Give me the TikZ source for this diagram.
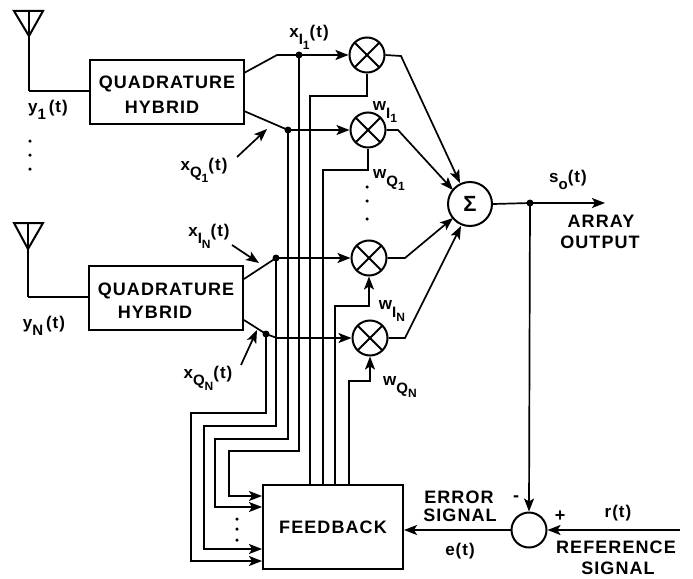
\documentclass[tikz,border=0pt]{standalone}
\usepackage{fontspec}
\usepackage{tikz}
\usetikzlibrary{arrows.meta,calc}
\newfontfamily\capsfont[LetterSpace=6]{Liberation Sans Bold}
\newfontfamily\sigfont[LetterSpace=6]{Liberation Sans Bold}
\newcommand{\siglabel}[3]{#1\raisebox{-0.45em}{\fontsize{15}{15}\selectfont #2\raisebox{-0.3em}{\fontsize{12}{12}\selectfont #3}}}
\tikzset{
    wire/.style={line width=1.7pt},
    sigarrow/.style={wire, -{Stealth[length=13pt,width=10pt,inset=3pt]}},
    blockbox/.style={draw, line width=2pt, inner sep=0pt},
    capstext/.style={inner sep=0pt, font=\capsfont\fontsize{18}{18}\selectfont, align=center},
    sigtext/.style={inner sep=0pt, font=\sigfont\fontsize{17}{17}\selectfont},
    mixer/.style={circle, draw, line width=2pt, minimum size=35pt, inner sep=0pt,
        path picture={
            \draw[line width=2pt] (path picture bounding box.north west) -- (path picture bounding box.south east);
            \draw[line width=2pt] (path picture bounding box.north east) -- (path picture bounding box.south west);
        }},
    sumcirc/.style={circle, draw, line width=2pt, inner sep=0pt},
    netdot/.style={circle, fill, inner sep=0pt, minimum size=7pt},
    smalldot/.style={circle, fill, inner sep=0pt, minimum size=3.5pt},
}
\begin{document}
\begin{tikzpicture}[x=1pt,y=-1pt]
    \useasboundingbox (0,0) rectangle (693,578);

    % Antennas
    \coordinate (ant1) at (29,11);
    \coordinate (ant1apex) at (29,36);
    \coordinate (ant1bend) at (29,91);
    \draw[wire, line width=2pt] (14,11) -- (43,11) -- (ant1apex) -- cycle;
    \draw[wire] (ant1) -- (ant1bend);
    \coordinate (ant2) at (28,223);
    \coordinate (ant2apex) at (28,249);
    \coordinate (ant2bend) at (28,297);
    \draw[wire, line width=2pt] (14,223) -- (43,223) -- (ant2apex) -- cycle;
    \draw[wire] (ant2) -- (ant2bend);

    % Hybrids
    \node[blockbox, minimum width=154pt, minimum height=63pt] (hyb1) at (167,92) {};
    \node[capstext] (hyb1top) at (167,84) {QUADRATURE};
    \node[capstext] (hyb1bot) at (162,107) {HYBRID};
    \node[blockbox, minimum width=154pt, minimum height=64pt] (hyb2) at (166,298) {};
    \node[capstext] (hyb2top) at (166,291) {QUADRATURE};
    \node[capstext] (hyb2bot) at (155,312) {HYBRID};
    \draw[wire] (ant1bend) -- (hyb1.west |- ant1bend);
    \draw[wire] (ant2bend) -- (hyb2.west |- ant2bend);

    % Mixers and summer
    \node[mixer] (mix1) at (367,55) {};
    \node[mixer] (mix2) at (368,130) {};
    \node[mixer] (mix3) at (369,258) {};
    \node[mixer] (mix4) at (370,338) {};
    \node[sumcirc, minimum size=44pt] (sum) at (470,204) {\capsfont\fontsize{22}{22}\selectfont Σ};
    \node[sumcirc, minimum size=35pt] (err) at (529,530) {};

    % Feedback block
    \node[blockbox, minimum width=140pt, minimum height=84pt] (fb) at (333,527) {};
    \node[capstext] (fbtext) at (333,527) {FEEDBACK};

    % Hybrid outputs
    \coordinate (i1) at (299,55);
    \coordinate (q1) at (288,130);
    \coordinate (iN) at (276,258);
    \coordinate (qN) at (266,334);
    \node[netdot] (i1dot) at (i1) {};
    \node[netdot] (q1dot) at (q1) {};
    \node[netdot] (iNdot) at (iN) {};
    \node[netdot] (qNdot) at (qN) {};
    \draw[wire] (244,73) -- (277,55) -- (i1);
    \draw[sigarrow] (i1) -- (mix1.west);
    \draw[wire] (244,111) -- (q1);
    \draw[sigarrow] (q1) -- (mix2.west);
    \draw[wire] (244,279) -- (iN);
    \draw[sigarrow] (iN) -- (mix3.west);
    \draw[sigarrow] (244,320) -- (qN) -- (277,338) -- (mix4.west);

    % Signals down to feedback
    \draw[sigarrow] (qN) -- (266,413) -- (191,413) -- (191,561) -- (fb.west |- 0,561);
    \draw[sigarrow] (iN) -- (276,426) -- (204,426) -- (204,549) -- (fb.west |- 0,549);
    \draw[sigarrow] (q1) -- (288,439) -- (215,439) -- (215,507) -- (fb.west |- 0,507);
    \draw[sigarrow] (i1) -- (299,451) -- (229,451) -- (229,496) -- (fb.west |- 0,496);

    % Weights up from feedback
    \draw[wire] (fb.north -| 310,0) -- (310,96) -- (367,96) -- (mix1.south);
    \draw[wire] (fb.north -| 323,0) -- (323,170) -- (368,170) -- (mix2.south);
    \draw[sigarrow] (fb.north -| 335,0) -- (335,306) -- (369,306) -- (mix3.south);
    \draw[sigarrow] (fb.north -| 349,0) -- (349,381) -- (370,381) -- (mix4.south);

    % Mixer outputs to summer
    \draw[sigarrow] (mix1.east) -- (401,56) -- (460,183);
    \draw[sigarrow] (mix2.east) -- (398,130) -- (453,190);
    \draw[sigarrow] (mix3.east) -- (405,258) -- (453,218);
    \draw[sigarrow] (mix4.east) -- (405,338) -- (461,226);

    % Output and error
    \coordinate (outtap) at (530,203);
    \coordinate (outend) at (605,203);
    \coordinate (refend) at (680,530);
    \node[netdot] (outdot) at (outtap) {};
    \draw[wire] (sum.east) -- (outtap);
    \draw[sigarrow] (outtap) -- (outend);
    \draw[sigarrow] (outtap) -- (err.north);
    \draw[sigarrow] (refend) -- (err.east);
    \draw[sigarrow] (err.west) -- (fb.east |- err.west);

    % Labels
    \node[sigtext] (ly1) at (48,112) {\siglabel{y}{1}{}\,(t)};
    \node[sigtext] (lyN) at (44,328) {\siglabel{y}{N}{}\,(t)};
    \node[sigtext] (lxI1) at (309,37) {\siglabel{x}{I}{1}(t)};
    \node[sigtext] (lxQ1) at (204,170) {\siglabel{x}{Q}{1}(t)};
    \node[sigtext] (lxIN) at (209,236) {\siglabel{x}{I}{N}(t)};
    \node[sigtext] (lxQN) at (208,378) {\siglabel{x}{Q}{N}(t)};
    \node[sigtext] (lwI1) at (385,112) {\siglabel{w}{I}{1}};
    \node[sigtext] (lwQ1) at (389,180) {\siglabel{w}{Q}{1}};
    \node[sigtext] (lwIN) at (392,311) {\siglabel{w}{I}{N}};
    \node[sigtext] (lwQN) at (400,387) {\siglabel{w}{Q}{N}};
    \node[sigtext] (lso) at (568,182) {\siglabel{s}{o}{}(t)};
    \node[capstext] (lout1) at (601,221) {ARRAY};
    \node[capstext] (lout2) at (600,242) {OUTPUT};
    \node[capstext] (lerr1) at (459,497) {ERROR};
    \node[capstext] (lerr2) at (460,515) {SIGNAL};
    \node[sigtext] (le) at (460,551) {e(t)};
    \node[sigtext] (lr) at (618,513) {r(t)};
    \node[capstext] (lref1) at (616,547) {REFERENCE};
    \node[capstext] (lref2) at (618,568) {SIGNAL};
    \node[capstext] (lminus) at (516,499) {-};
    \node[capstext] (lplus) at (560,516) {+};

    % Pointers to signals
    \coordinate (pq1) at (237,157);
    \coordinate (pq1h) at (267,129);
    \coordinate (pin) at (232,245);
    \coordinate (pinh) at (259,263);
    \coordinate (pqn) at (241,365);
    \coordinate (pqnh) at (257,330);
    \draw[sigarrow] (pq1) -- (pq1h);
    \draw[sigarrow] (pin) -- (pinh);
    \draw[sigarrow] (pqn) -- (pqnh);

    % Ellipsis dots
    \node[smalldot] (d1) at (30,141) {};
    \node[smalldot] (d2) at (30,155) {};
    \node[smalldot] (d3) at (30,169) {};
    \node[smalldot] (d4) at (367,187) {};
    \node[smalldot] (d5) at (367,201) {};
    \node[smalldot] (d6) at (367,219) {};
    \node[smalldot] (d7) at (237,519) {};
    \node[smalldot] (d8) at (237,529) {};
    \node[smalldot] (d9) at (237,540) {};
\end{tikzpicture}
\end{document}
